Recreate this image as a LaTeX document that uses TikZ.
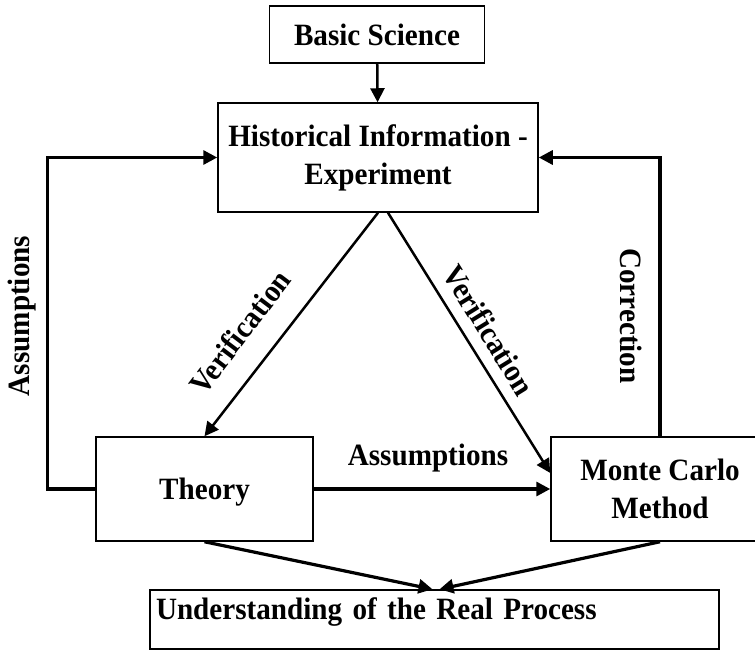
\documentclass[tikz,border=0pt]{standalone}
\usepackage{fontspec}
\setmainfont[FakeStretch=0.94]{Liberation Serif}
\usepackage{tikz}
\usetikzlibrary{arrows.meta,calc}

\tikzset{
  box/.style={draw,line width=1.5pt,inner sep=0pt,align=center,
              font=\bfseries\fontsize{31}{38}\selectfont},
  lbl/.style={inner sep=0pt,font=\bfseries\fontsize{31}{38}\selectfont},
  link/.style={line width=2.5pt,-{Triangle[length=14pt,width=14pt]}},
  loop/.style={link,line width=3.2pt},
}

\begin{document}
\begin{tikzpicture}[x=1pt,y=-1pt]
 \useasboundingbox (0,0) rectangle (755,650);
 % boxes
 \node[box,minimum width=215,minimum height=57] (basic) at (377,34.5) {Basic Science};
 \node[box,minimum width=320,minimum height=109] (hist) at (378,157.5) {Historical Information -\\Experiment};
 \node[box,minimum width=217,minimum height=104,text height=28pt] (theory) at (204.5,489) {Theory};
 \node[box,minimum width=218,minimum height=104] (mc) at (660,489) {Monte Carlo\\Method};
 \node[box,align=left,text width=557,inner xsep=6pt,minimum height=59,
       text height=21pt,text depth=21pt] (und) at (434.5,619.5) {Understanding of the Real Process};
 % arrows
 \draw[link] (basic) -- (hist);
 \draw[link] (hist.south) -- (theory.north);
 \draw[link] ([xshift=10pt]hist.south) -- ([yshift=16pt]mc.west);
 \draw[loop] (theory.east) -- (theory.east -| mc.west);
 \draw[loop] (theory.west) -- ++(-48,0) |- (hist.west);
 \draw[loop] (mc.north) |- (hist.east);
 \draw[loop] (theory.south) -- ([xshift=-2pt]und.north);
 \draw[loop] (mc.south) -- ([xshift=5pt]und.north);
 % labels
 \node[lbl,rotate=90] (asml) at (22,316) {Assumptions};
 \node[lbl,rotate=52.8] (ver1) at (240,332) {Verification};
 \node[lbl,rotate=-58.3] (ver2) at (489,330) {Verification};
 \node[lbl,rotate=-90] (corr) at (631,316) {Correction};
 \node[lbl] (asmm) at (428,458) {Assumptions};
\end{tikzpicture}
\end{document}
